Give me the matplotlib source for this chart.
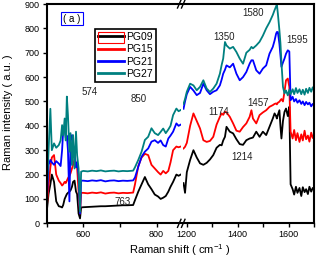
import matplotlib
matplotlib.use("Agg")
import matplotlib.pyplot as plt
from matplotlib.lines import Line2D
from matplotlib.patches import Rectangle

plt.rcParams['font.family'] = ['Liberation Sans', 'DejaVu Sans']
plt.rcParams['mathtext.default'] = 'regular'

# Raman shift grid, low-wavenumber segment
x_left = [500, 505, 510, 514, 520, 526, 533, 538, 542, 545, 549, 552, 555, 558, 562, 565, 569, 572,
          576, 580, 583, 587, 591, 594,
          600, 612, 624, 636, 648, 660, 672, 684, 696, 708, 720, 736,
          741, 750, 759, 768, 777, 786, 795, 804, 811, 818, 825, 832, 838, 845, 854, 860, 866]

pg09_left = [46, 120, 160, 200, 170, 90, 70, 68, 65, 75, 100, 110, 120, 125, 130, 135, 150, 170,
             175, 130, 120, 40, 20, 65,
             66, 67, 68, 69, 70, 70, 71, 72, 73, 74, 74, 75,
             95, 130, 160, 190, 160, 140, 118, 110, 100, 105, 112, 130, 150, 170, 200, 195, 200]
pg15_left = [60, 150, 230, 270, 280, 200, 175, 165, 155, 160, 170, 165, 175, 185, 195, 205, 225, 240,
             263, 245, 230, 130, 40, 125,
             125, 123, 126, 124, 127, 122, 125, 126, 123, 125, 124, 126,
             160, 235, 270, 285, 280, 240, 225, 210, 200, 215, 205, 215, 250, 300, 315, 312, 315]
pg21_left = [80, 240, 260, 250, 240, 255, 245, 235, 300, 380, 389, 350, 360, 300, 90, 340, 362, 320,
             290, 230, 250, 200, 40, 175,
             175, 173, 176, 174, 177, 172, 175, 176, 173, 175, 174, 176,
             188, 232, 273, 294, 307, 335, 341, 330, 340, 321, 315, 348, 360, 376, 410, 400, 405]
pg27_left = [120, 294, 470, 300, 328, 310, 321, 340, 403, 360, 430, 340, 520, 444, 294, 370, 239, 362,
             225, 376, 280, 225, 48, 212,
             215, 213, 216, 214, 217, 213, 215, 216, 213, 215, 214, 216,
             230, 260, 294, 342, 355, 390, 370, 362, 375, 389, 370, 385, 400, 444, 471, 460, 465]

# Raman shift grid, high-wavenumber segment
x_right = [1187, 1193, 1200, 1213, 1226, 1239, 1252, 1265, 1278, 1291, 1304, 1317, 1330, 1337, 1343,
           1350, 1356, 1369, 1382, 1395, 1408, 1421, 1434, 1447, 1454, 1460, 1473, 1486, 1499, 1512,
           1525, 1538, 1545, 1551, 1554, 1558, 1564, 1568, 1572, 1578, 1584, 1590, 1597, 1603, 1608,
           1616, 1622, 1629, 1635, 1643, 1650, 1656, 1663, 1669, 1676, 1682, 1689, 1695, 1700]

pg09_right = [165, 125, 210, 260, 300, 270, 246, 240, 248, 262, 280, 310, 322, 320, 340,
              355, 396, 376, 369, 345, 325, 322, 341, 348, 350, 352, 376, 355, 376, 362,
              396, 430, 451, 440, 430, 445, 464, 400, 348, 420, 457, 471, 440, 478, 160,
              140, 118, 150, 125, 145, 112, 148, 128, 140, 120, 150, 130, 145, 138]
pg15_right = [307, 314, 330, 400, 451, 420, 389, 341, 334, 338, 355, 405, 437, 451, 445,
              458, 455, 437, 410, 380, 376, 395, 410, 437, 464, 430, 410, 444, 455, 464,
              478, 485, 490, 492, 488, 495, 499, 505, 510, 500, 540, 587, 594, 560, 376,
              348, 383, 341, 370, 334, 365, 340, 380, 345, 360, 335, 372, 350, 365]
pg21_right = [470, 500, 530, 560, 545, 526, 535, 573, 546, 530, 540, 546, 566, 590, 614,
              630, 648, 640, 655, 614, 587, 600, 621, 655, 669, 669, 628, 614, 635, 648,
              696, 724, 750, 778, 785, 785, 737, 690, 642, 660, 676, 696, 710, 705, 505,
              519, 500, 510, 495, 505, 490, 500, 485, 498, 488, 495, 480, 490, 485]
pg27_right = [490, 510, 540, 573, 566, 546, 560, 587, 553, 539, 553, 573, 614, 650, 676,
              744, 730, 717, 724, 703, 676, 655, 700, 712, 724, 718, 730, 745, 770, 800,
              825, 855, 875, 890, 899, 860, 792, 740, 660, 560, 533, 545, 525, 548, 530,
              550, 530, 555, 535, 550, 530, 548, 528, 552, 535, 556, 540, 558, 545]

labels = ['PG09', 'PG15', 'PG21', 'PG27']
colors = ['black', '#ff0000', '#0000ff', '#008080']

peak_left = [('574', 616, 538), ('850', 751, 509), ('763', 708, 87)]
peak_right = [('1350', 1346, 763), ('1580', 1459, 862), ('1595', 1633, 751),
              ('1174', 1324, 456), ('1457', 1480, 492), ('1214', 1416, 272)]

W, H = 316, 259
fig = plt.figure(figsize=(W / 100, H / 100), dpi=100)

def fx(px):
    return px / W

def fy(py):
    return 1 - py / H

bottom, top = 223.3, 4.0
ax1 = fig.add_axes([fx(46.7), fy(bottom), fx(181 - 46.7), (bottom - top) / H])
ax2 = fig.add_axes([fx(183), fy(bottom), fx(314 - 183), (bottom - top) / H], sharey=ax1)

lefts = [pg09_left, pg15_left, pg21_left, pg27_left]
rights = [pg09_right, pg15_right, pg21_right, pg27_right]
for yl, yr, c, lab in zip(lefts, rights, colors, labels):
    ax1.plot(x_left, yl, color=c, lw=1.3, label=lab)
    ax2.plot(x_right, yr, color=c, lw=1.3)

ax1.set_xlim(500, 866.6)
ax2.set_xlim(1185, 1700)
ax1.set_ylim(0, 900)
ax1.set_yticks(range(0, 901, 100))
ax1.set_xticks([600, 800])
ax1.set_xticks([500, 700], minor=True)
ax2.set_xticks([1200, 1400, 1600])
ax2.set_xticks([1300, 1500, 1700], minor=True)

for ax in (ax1, ax2):
    for s in ax.spines.values():
        s.set_linewidth(1.5)
    ax.tick_params(direction='out', length=3, width=1, labelsize=6.5, pad=2)
    ax.tick_params(which='minor', direction='out', length=3, width=1)
ax1.spines['right'].set_visible(False)
ax2.spines['left'].set_visible(False)
ax2.tick_params(axis='y', left=False, labelleft=False)

for t, x, y in peak_left:
    ax1.text(x, y, t, fontsize=7, ha='center', va='center', color='#222222')
for t, x, y in peak_right:
    ax2.text(x, y, t, fontsize=7, ha='center', va='center', color='#222222')

# axis break marks
for py in (bottom, top):
    for x0 in (177.5, 181.5):
        fig.add_artist(Line2D([fx(x0), fx(x0 + 3.5)], [fy(py + 4), fy(py - 4)],
                              transform=fig.transFigure, color='black', lw=1.0))

handles = [Line2D([], [], color=c, lw=2) for c in colors]
leg = ax1.legend(handles, labels, loc='upper left', bbox_to_anchor=(fx(95), fy(29)),
                 bbox_transform=fig.transFigure, borderaxespad=0, fontsize=7.5,
                 handlelength=2.5, handletextpad=0.2, labelspacing=0.22, borderpad=0.3,
                 fancybox=False, framealpha=1, edgecolor='black')
leg.get_frame().set_linewidth(1.2)
leg.set_zorder(10)

fig.add_artist(Rectangle((fx(98), fy(43)), fx(26), 11 / H, transform=fig.transFigure,
                         fill=False, edgecolor='#ff0000', lw=0.8, zorder=20))

fig.text(fx(72), fy(18.5), '( a )', fontsize=7, ha='center', va='center',
         bbox=dict(boxstyle='square,pad=0.2', fc='white', ec='#0000ff', lw=0.8))

fig.text(fx(8), fy(112), 'Raman intensity ( a.u. )', rotation=90, fontsize=8,
         ha='center', va='center')
fig.text(fx(180), fy(250), r'Raman shift ( cm$^{-1}$ )', fontsize=8, ha='center', va='center')

fig.savefig('out.png', dpi=100)
